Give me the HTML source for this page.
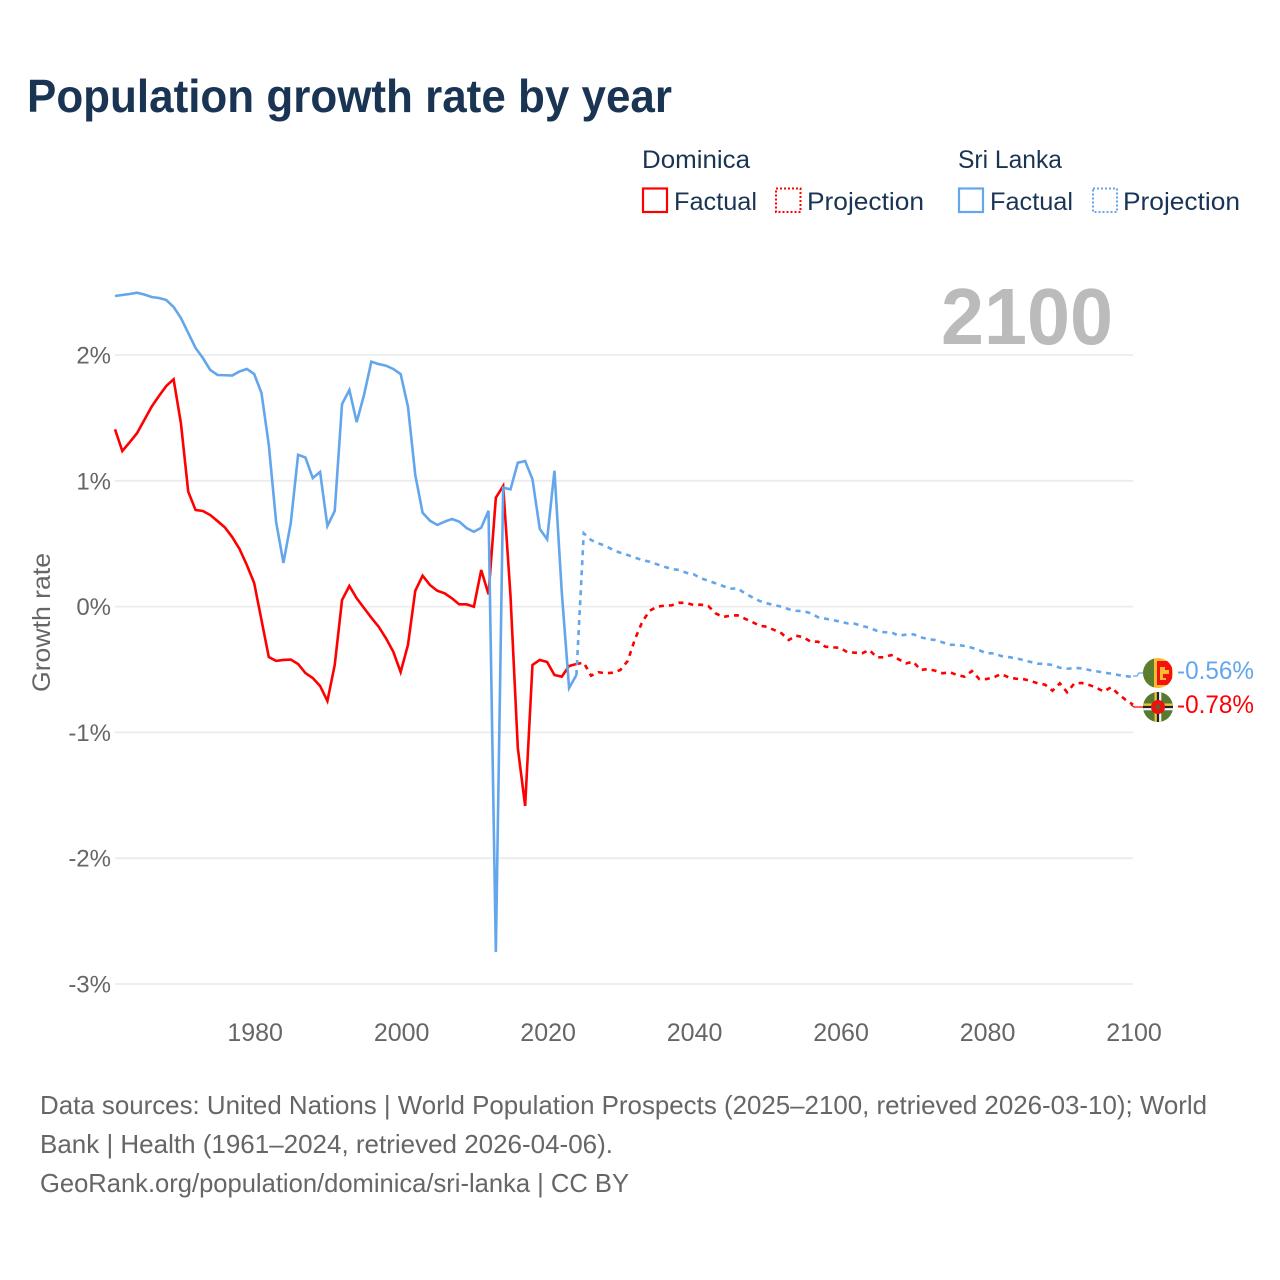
<!DOCTYPE html>
<html lang="en">
<head>
<meta charset="utf-8">
<title>Population growth rate by year</title>
<style>
html,body{margin:0;padding:0;background:#fff;}
svg{display:block;font-family:"Liberation Sans",sans-serif;}
.nav{fill:#1a3454;font-size:25px;}
.foot{fill:#666;font-size:26px;}
</style>
</head>
<body>
<svg id="chart" width="1280" height="1280" viewBox="0 0 1280 1280" xmlns="http://www.w3.org/2000/svg">
  <rect width="1280" height="1280" fill="#fff"/>
  <text x="27" y="112" font-size="46" font-weight="700" fill="#1a3454" textLength="645" lengthAdjust="spacingAndGlyphs">Population growth rate by year</text>

  <g>
    <text class="nav" x="642" y="168" textLength="108" lengthAdjust="spacingAndGlyphs">Dominica</text>
    <rect x="643" y="188.5" width="24" height="23.5" fill="none" stroke="#ff0000" stroke-width="2.2"/>
    <text class="nav" x="674" y="210" textLength="83" lengthAdjust="spacingAndGlyphs">Factual</text>
    <rect x="776" y="188.5" width="24.5" height="23.5" fill="none" stroke="#ff0000" stroke-width="2" stroke-dasharray="2 2"/>
    <text class="nav" x="807" y="210" textLength="117" lengthAdjust="spacingAndGlyphs">Projection</text>
    <text class="nav" x="958" y="168" textLength="104" lengthAdjust="spacingAndGlyphs">Sri Lanka</text>
    <rect x="959" y="188.5" width="24" height="23.5" fill="none" stroke="#63a6ec" stroke-width="2.2"/>
    <text class="nav" x="990" y="210" textLength="83" lengthAdjust="spacingAndGlyphs">Factual</text>
    <rect x="1093" y="188.5" width="24" height="23.5" fill="none" stroke="#63a6ec" stroke-width="2" stroke-dasharray="2 2"/>
    <text class="nav" x="1123" y="210" textLength="117" lengthAdjust="spacingAndGlyphs">Projection</text>
  </g>

  <g id="grid"></g>
  <g id="yticks"></g>
  <g id="xticks"></g>
  <text transform="translate(50,692) rotate(-90)" font-size="25" fill="#666" textLength="139" lengthAdjust="spacingAndGlyphs">Growth rate</text>
  <text x="941" y="344" font-size="80" font-weight="700" fill="#bbbbbb" textLength="172" lengthAdjust="spacingAndGlyphs">2100</text>

  <g id="series"></g>

  <path d="M1133 676 L1137 676 L1139 673 L1145 673" fill="none" stroke="#63a6ec" stroke-width="1.2"/>
  <path d="M1131 705 L1134 707 L1145 707" fill="none" stroke="#ff0000" stroke-width="1.2"/>

  <defs>
    <clipPath id="clipSri"><circle cx="1158" cy="673" r="15"/></clipPath>
    <clipPath id="clipDom"><circle cx="1158" cy="707" r="15"/></clipPath>
  </defs>
  <g clip-path="url(#clipSri)">
    <rect x="1143" y="658" width="30" height="30" fill="#fdb92f"/>
    <rect x="1143" y="658" width="11" height="30" fill="#5c7d2e"/>
    <rect x="1157" y="661" width="15" height="24" fill="#f5120c"/>
    <path d="M1160 667 h5 v3 h4 v4 h-6 v4 h3 v2 h-6 z" fill="#fdb92f"/>
  </g>
  <g clip-path="url(#clipDom)">
    <rect x="1143" y="692" width="30" height="30" fill="#557a30"/>
    <rect x="1143" y="703.5" width="30" height="2.4" fill="#f2c233"/>
    <rect x="1143" y="705.9" width="30" height="2.2" fill="#1c2333"/>
    <rect x="1143" y="708.1" width="30" height="2.2" fill="#f4f4f4"/>
    <rect x="1154.5" y="692" width="2.4" height="30" fill="#f2c233"/>
    <rect x="1156.9" y="692" width="2.2" height="30" fill="#1c2333"/>
    <rect x="1159.1" y="692" width="2.2" height="30" fill="#f4f4f4"/>
    <circle cx="1158" cy="707" r="7" fill="#ee1111"/>
    <circle cx="1158" cy="707" r="2.4" fill="#4a6a2a"/>
  </g>
  <text x="1177" y="679" font-size="25" fill="#63a6ec" textLength="77" lengthAdjust="spacingAndGlyphs">-0.56%</text>
  <text x="1177" y="713" font-size="25" fill="#ff0000" textLength="77" lengthAdjust="spacingAndGlyphs">-0.78%</text>

  <g>
    <text class="foot" x="40" y="1114" textLength="1167" lengthAdjust="spacingAndGlyphs">Data sources: United Nations | World Population Prospects (2025–2100, retrieved 2026-03-10); World</text>
    <text class="foot" x="40" y="1153" textLength="573" lengthAdjust="spacingAndGlyphs">Bank | Health (1961–2024, retrieved 2026-04-06).</text>
    <text class="foot" x="40" y="1192" textLength="589" lengthAdjust="spacingAndGlyphs">GeoRank.org/population/dominica/sri-lanka | CC BY</text>
  </g>
</svg>
<script>
var factualStartYear = 1961;
var projectionStartYear = 2025;
var xTickYears = [1980, 2000, 2020, 2040, 2060, 2080, 2100];
var yTickValues = [2, 1, 0, -1, -2, -3];
var yTickLabels = ['2%', '1%', '0%', '-1%', '-2%', '-3%'];

var dominicaFactual = [1.409,1.237,1.306,1.378,1.483,1.589,1.674,1.754,1.807,
1.457,0.913,0.768,0.760,0.728,0.680,0.630,0.553,0.458,0.331,
0.188,-0.107,-0.401,-0.432,-0.424,-0.421,-0.456,-0.528,-0.568,-0.631,
-0.750,-0.464,0.052,0.164,0.066,-0.011,-0.088,-0.160,-0.252,-0.359,
-0.520,-0.305,0.126,0.246,0.172,0.126,0.106,0.066,0.018,0.018,
-0.001,0.291,0.098,0.866,0.959,0.084,-1.124,-1.585,-0.464,-0.424,
-0.440,-0.544,-0.557,-0.472,-0.456];

var dominicaProjection = [-0.446,-0.549,-0.522,-0.530,-0.525,-0.504,-0.432,-0.258,-0.120,-0.033,
-0.001,0.007,0.010,0.031,0.029,0.013,0.015,0.005,-0.053,-0.083,
-0.072,-0.069,-0.096,-0.122,-0.152,-0.160,-0.186,-0.212,-0.266,-0.231,
-0.244,-0.279,-0.279,-0.319,-0.324,-0.327,-0.363,-0.366,-0.371,-0.345,
-0.403,-0.403,-0.385,-0.419,-0.451,-0.438,-0.504,-0.496,-0.510,-0.530,
-0.522,-0.544,-0.557,-0.512,-0.576,-0.576,-0.562,-0.536,-0.562,-0.573,
-0.576,-0.591,-0.610,-0.621,-0.669,-0.610,-0.681,-0.610,-0.607,-0.623,
-0.645,-0.676,-0.641,-0.695,-0.742,-0.780];

var sriLankaFactual = [2.469,2.477,2.485,2.495,2.481,2.461,2.453,2.437,2.382,
2.294,2.175,2.056,1.976,1.881,1.841,1.839,1.837,1.869,1.889,
1.849,1.698,1.285,0.672,0.347,0.665,1.207,1.185,1.022,1.070,
0.641,0.760,1.610,1.722,1.467,1.682,1.947,1.928,1.915,1.889,
1.849,1.589,1.046,0.746,0.683,0.649,0.675,0.696,0.675,0.625,
0.595,0.627,0.762,-2.746,0.945,0.932,1.144,1.157,1.012,0.617,
0.535,1.080,0.116,-0.647,-0.544];

var sriLankaProjection = [0.583,0.529,0.503,0.482,0.450,0.428,0.410,0.389,0.370,0.357,
0.336,0.317,0.299,0.291,0.269,0.257,0.225,0.206,0.185,0.164,
0.142,0.145,0.106,0.074,0.045,0.026,0.013,-0.001,-0.021,-0.033,
-0.037,-0.053,-0.085,-0.096,-0.107,-0.120,-0.133,-0.136,-0.154,-0.168,
-0.192,-0.204,-0.204,-0.231,-0.223,-0.220,-0.244,-0.258,-0.266,-0.284,
-0.303,-0.305,-0.313,-0.327,-0.347,-0.371,-0.371,-0.393,-0.401,-0.411,
-0.424,-0.440,-0.454,-0.456,-0.464,-0.486,-0.494,-0.488,-0.491,-0.504,
-0.514,-0.525,-0.533,-0.544,-0.552,-0.560];

var SVGNS = 'http://www.w3.org/2000/svg';
function xScale(year) { return 115 + (year - 1961) * 7.324; }
function yScale(value) { return 606.6 - value * 125.8; }

function buildPath(startYear, values, prefixYear, prefixValue) {
  var parts = [];
  if (prefixYear !== undefined) {
    parts.push('M' + xScale(prefixYear).toFixed(2) + ' ' + yScale(prefixValue).toFixed(2));
  }
  values.forEach(function (v, i) {
    var cmd = parts.length ? 'L' : 'M';
    parts.push(cmd + xScale(startYear + i).toFixed(2) + ' ' + yScale(v).toFixed(2));
  });
  return parts.join(' ');
}

var gridLayer = document.getElementById('grid');
var yTickLayer = document.getElementById('yticks');
yTickValues.forEach(function (v, i) {
  var line = document.createElementNS(SVGNS, 'line');
  
  
  line.setAttribute('x1', 115);
  line.setAttribute('x2', 1133);
  line.setAttribute('y1', yScale(v));
  line.setAttribute('y2', yScale(v));
  line.setAttribute('stroke', '#ececec');
  line.setAttribute('stroke-width', '1.8');
  gridLayer.appendChild(line);

  var label = document.createElementNS(SVGNS, 'text');
  
  
  label.setAttribute('x', 111);
  label.setAttribute('y', yScale(v) + 8.5);
  label.setAttribute('text-anchor', 'end');
  label.setAttribute('font-size', '24');
  label.setAttribute('fill', '#666');
  label.textContent = yTickLabels[i];
  yTickLayer.appendChild(label);
});

var xTickLayer = document.getElementById('xticks');
xTickYears.forEach(function (year) {
  var label = document.createElementNS(SVGNS, 'text');
  
  
  label.setAttribute('x', xScale(year) + 1);
  label.setAttribute('y', 1041);
  label.setAttribute('text-anchor', 'middle');
  label.setAttribute('font-size', '25');
  label.setAttribute('fill', '#666');
  label.textContent = String(year);
  xTickLayer.appendChild(label);
});

var seriesLayer = document.getElementById('series');
function addLine(d, color, dashed, name) {
  var p = document.createElementNS(SVGNS, 'path');
  
  
  p.setAttribute('d', d);
  p.setAttribute('fill', 'none');
  p.setAttribute('stroke', color);
  p.setAttribute('stroke-width', '2.6');
  p.setAttribute('stroke-linejoin', 'miter');
  if (dashed) { p.setAttribute('stroke-dasharray', '5 5'); }
  seriesLayer.appendChild(p);
}
var lastFactualYear = factualStartYear + dominicaFactual.length - 1;
addLine(buildPath(factualStartYear, dominicaFactual), '#ff0000', false, 'dominica-factual-line');
addLine(buildPath(projectionStartYear, dominicaProjection, lastFactualYear, dominicaFactual[dominicaFactual.length - 1]), '#ff0000', true, 'dominica-projection-line');
addLine(buildPath(factualStartYear, sriLankaFactual), '#63a6ec', false, 'sri-lanka-factual-line');
addLine(buildPath(projectionStartYear, sriLankaProjection, lastFactualYear, sriLankaFactual[sriLankaFactual.length - 1]), '#63a6ec', true, 'sri-lanka-projection-line');
</script>
</body>
</html>
